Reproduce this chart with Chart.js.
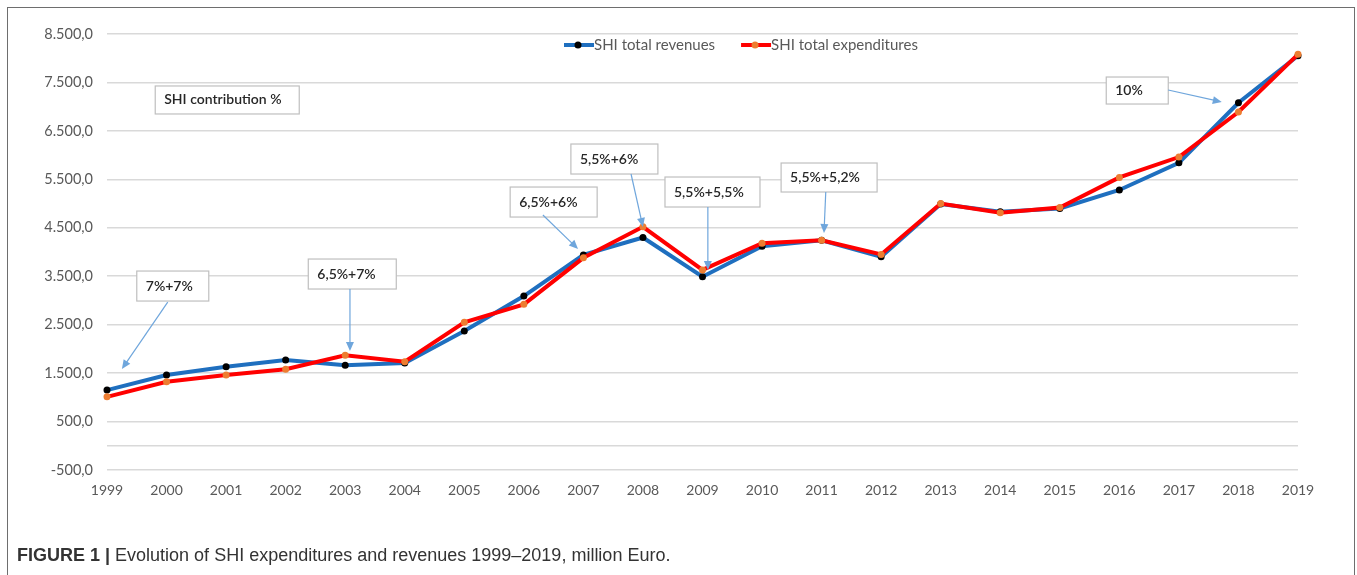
<!DOCTYPE html>
<html>
<head>
<meta charset="utf-8">
<script src="https://cdn.jsdelivr.net/npm/chart.js@4"></script>
<style>
  html, body { margin: 0; padding: 0; background: #fff; }
  #wrap { position: relative; width: 1357px; height: 575px; overflow: hidden; }
  #frame {
    position: absolute; left: 7px; top: 7px; width: 1348px; height: 580px;
    border: 1.5px solid #6e6e6e; box-sizing: border-box;
  }
  #chart { position: absolute; left: 0; top: 0; }
  #caption {
    position: absolute; left: 17px; top: 545px;
    font-family: "Liberation Sans", Arial, sans-serif; font-size: 18px; color: #333;
    white-space: nowrap;
  }
  #caption b { font-weight: bold; }
</style>
</head>
<body>
<div id="wrap">
  <div id="frame"></div>
  <canvas id="chart" width="1357" height="575"></canvas>
  <div id="caption"><b>FIGURE 1 |</b> Evolution of SHI expenditures and revenues 1999–2019, million Euro.</div>
</div>
<script>
// categories and values (million Euro)
const years = ['1999', '2000', '2001', '2002', '2003', '2004', '2005', '2006', '2007', '2008',
  '2009', '2010', '2011', '2012', '2013', '2014', '2015', '2016', '2017', '2018', '2019'];
const revenues = [1150, 1460, 1630, 1770, 1660, 1710, 2370, 3090, 3940, 4300,
  3490, 4120, 4240, 3900, 4990, 4830, 4900, 5280, 5840, 7080, 8050];
const expenditures = [1010, 1320, 1460, 1580, 1870, 1735, 2550, 2920, 3880, 4520,
  3630, 4180, 4240, 3950, 5000, 4810, 4920, 5540, 5960, 6890, 8080];

// callouts: text, box corner (year index, value), box size, arrow from/to (year index, value)
const callouts = [
  { text: 'SHI contribution %', x: 0.81, y: 7427, w: 144, h: 28 },
  { text: '7%+7%', x: 0.50, y: 3607, w: 72, h: 30, arrow: [1.02, 2967, 0.25, 1584] },
  { text: '6,5%+7%', x: 3.38, y: 3855, w: 88, h: 30, arrow: [4.08, 3236, 4.08, 1956] },
  { text: '6,5%+6%', x: 6.77, y: 5341, w: 87, h: 30, arrow: [7.32, 4763, 7.91, 4062] },
  { text: '5,5%+6%', x: 7.79, y: 6229, w: 87, h: 30, arrow: [8.80, 5610, 9.00, 4516] },
  { text: '5,5%+5,5%', x: 9.37, y: 5548, w: 95, h: 30, arrow: [10.09, 4929, 10.09, 3628] },
  { text: '5,5%+5,2%', x: 11.32, y: 5837, w: 96, h: 29, arrow: [12.07, 5238, 12.04, 4392] },
  { text: '10%', x: 16.78, y: 7612, w: 62, h: 27, arrow: [17.82, 7344, 18.72, 7096] }
];

const FONT = 'Lato, "Open Sans", sans-serif';
const GREY = '#595959';

function fmt(v) {
  const s = Math.abs(v).toFixed(0).replace(/\B(?=(\d{3})+(?!\d))/g, '.');
  return (v < 0 ? '-' : '') + s + ',0';
}

const extras = {
  id: 'extras',
  beforeDatasetsDraw(chart) {
    const { ctx, chartArea, scales } = chart;
    // horizontal axis line at zero
    const y0 = scales.y.getPixelForValue(0);
    ctx.save();
    ctx.strokeStyle = '#d9d9d9';
    ctx.lineWidth = 1.5;
    ctx.beginPath();
    ctx.moveTo(chartArea.left, y0);
    ctx.lineTo(chartArea.right, y0);
    ctx.stroke();
    ctx.restore();
  },
  afterDatasetsDraw(chart) {
    const { ctx, scales } = chart;
    const px = (i) => scales.x.getPixelForValue(i);
    const py = (v) => scales.y.getPixelForValue(v);
    ctx.save();

    // legend
    ctx.font = '15px ' + FONT;
    ctx.textBaseline = 'middle';
    let lx = 564;
    const ly = 45;
    chart.data.datasets.forEach((ds) => {
      ctx.strokeStyle = ds.borderColor;
      ctx.lineWidth = 4;
      ctx.beginPath();
      ctx.moveTo(lx, ly);
      ctx.lineTo(lx + 30, ly);
      ctx.stroke();
      ctx.fillStyle = ds.pointBackgroundColor;
      ctx.beginPath();
      ctx.arc(lx + 14, ly, 3.5, 0, Math.PI * 2);
      ctx.fill();
      ctx.fillStyle = GREY;
      ctx.fillText(ds.label, lx + 30, ly);
      lx += 30 + ctx.measureText(ds.label).width + 26;
    });

    // callouts
    callouts.forEach((c) => {
      const bx = px(c.x), by = py(c.y);
      ctx.fillStyle = '#fff';
      ctx.fillRect(bx, by, c.w, c.h);
      ctx.strokeStyle = '#bfbfbf';
      ctx.lineWidth = 1.2;
      ctx.strokeRect(bx, by, c.w, c.h);
      ctx.fillStyle = '#262626';
      ctx.font = '600 14px ' + FONT;
      ctx.fillText(c.text, bx + 9, by + c.h / 2);
      if (c.arrow) {
        const x1 = px(c.arrow[0]), y1 = py(c.arrow[1]);
        const x2 = px(c.arrow[2]), y2 = py(c.arrow[3]);
        const a = Math.atan2(y2 - y1, x2 - x1);
        ctx.strokeStyle = '#6fa6dc';
        ctx.fillStyle = '#6fa6dc';
        ctx.lineWidth = 1.2;
        ctx.beginPath();
        ctx.moveTo(x1, y1);
        ctx.lineTo(x2 - 6 * Math.cos(a), y2 - 6 * Math.sin(a));
        ctx.stroke();
        ctx.beginPath();
        ctx.moveTo(x2, y2);
        ctx.lineTo(x2 - 9 * Math.cos(a) + 4 * Math.sin(a), y2 - 9 * Math.sin(a) - 4 * Math.cos(a));
        ctx.lineTo(x2 - 9 * Math.cos(a) - 4 * Math.sin(a), y2 - 9 * Math.sin(a) + 4 * Math.cos(a));
        ctx.closePath();
        ctx.fill();
      }
    });
    ctx.restore();
  }
};

new Chart(document.getElementById('chart'), {
  type: 'line',
  data: {
    labels: years,
    datasets: [
      {
        label: 'SHI total revenues',
        data: revenues,
        borderColor: '#1f6fbf',
        pointBackgroundColor: '#000000',
        borderWidth: 4,
        order: 2
      },
      {
        label: 'SHI total expenditures',
        data: expenditures,
        borderColor: '#ff0000',
        pointBackgroundColor: '#ed7d31',
        borderWidth: 4,
        order: 1
      }
    ]
  },
  options: {
    responsive: false,
    animation: false,
    devicePixelRatio: 1,
    datasets: {
      line: { pointRadius: 3.5, pointBorderWidth: 0, pointBorderColor: 'rgba(0,0,0,0)' }
    },
    elements: {
      line: { tension: 0 }
    },
    layout: { padding: { left: 0, top: 34, right: 59, bottom: 75 } },
    plugins: { legend: { display: false }, tooltip: { enabled: false } },
    scales: {
      x: {
        offset: false,
        grid: { display: false, drawTicks: false },
        border: { display: false },
        ticks: { color: GREY, font: { family: FONT, size: 14 }, padding: 12, maxRotation: 0 },
        afterFit: (s) => { s.height = 30; }
      },
      y: {
        min: -500,
        max: 8500,
        ticks: { stepSize: 1000, color: GREY, font: { family: FONT, size: 14.5 }, padding: 14, callback: (v) => fmt(v) },
        grid: { color: '#d9d9d9', lineWidth: 1.5, drawTicks: false },
        border: { display: false },
        afterFit: (s) => { s.width = 107; }
      }
    }
  },
  plugins: [extras]
});
</script>
</body>
</html>
